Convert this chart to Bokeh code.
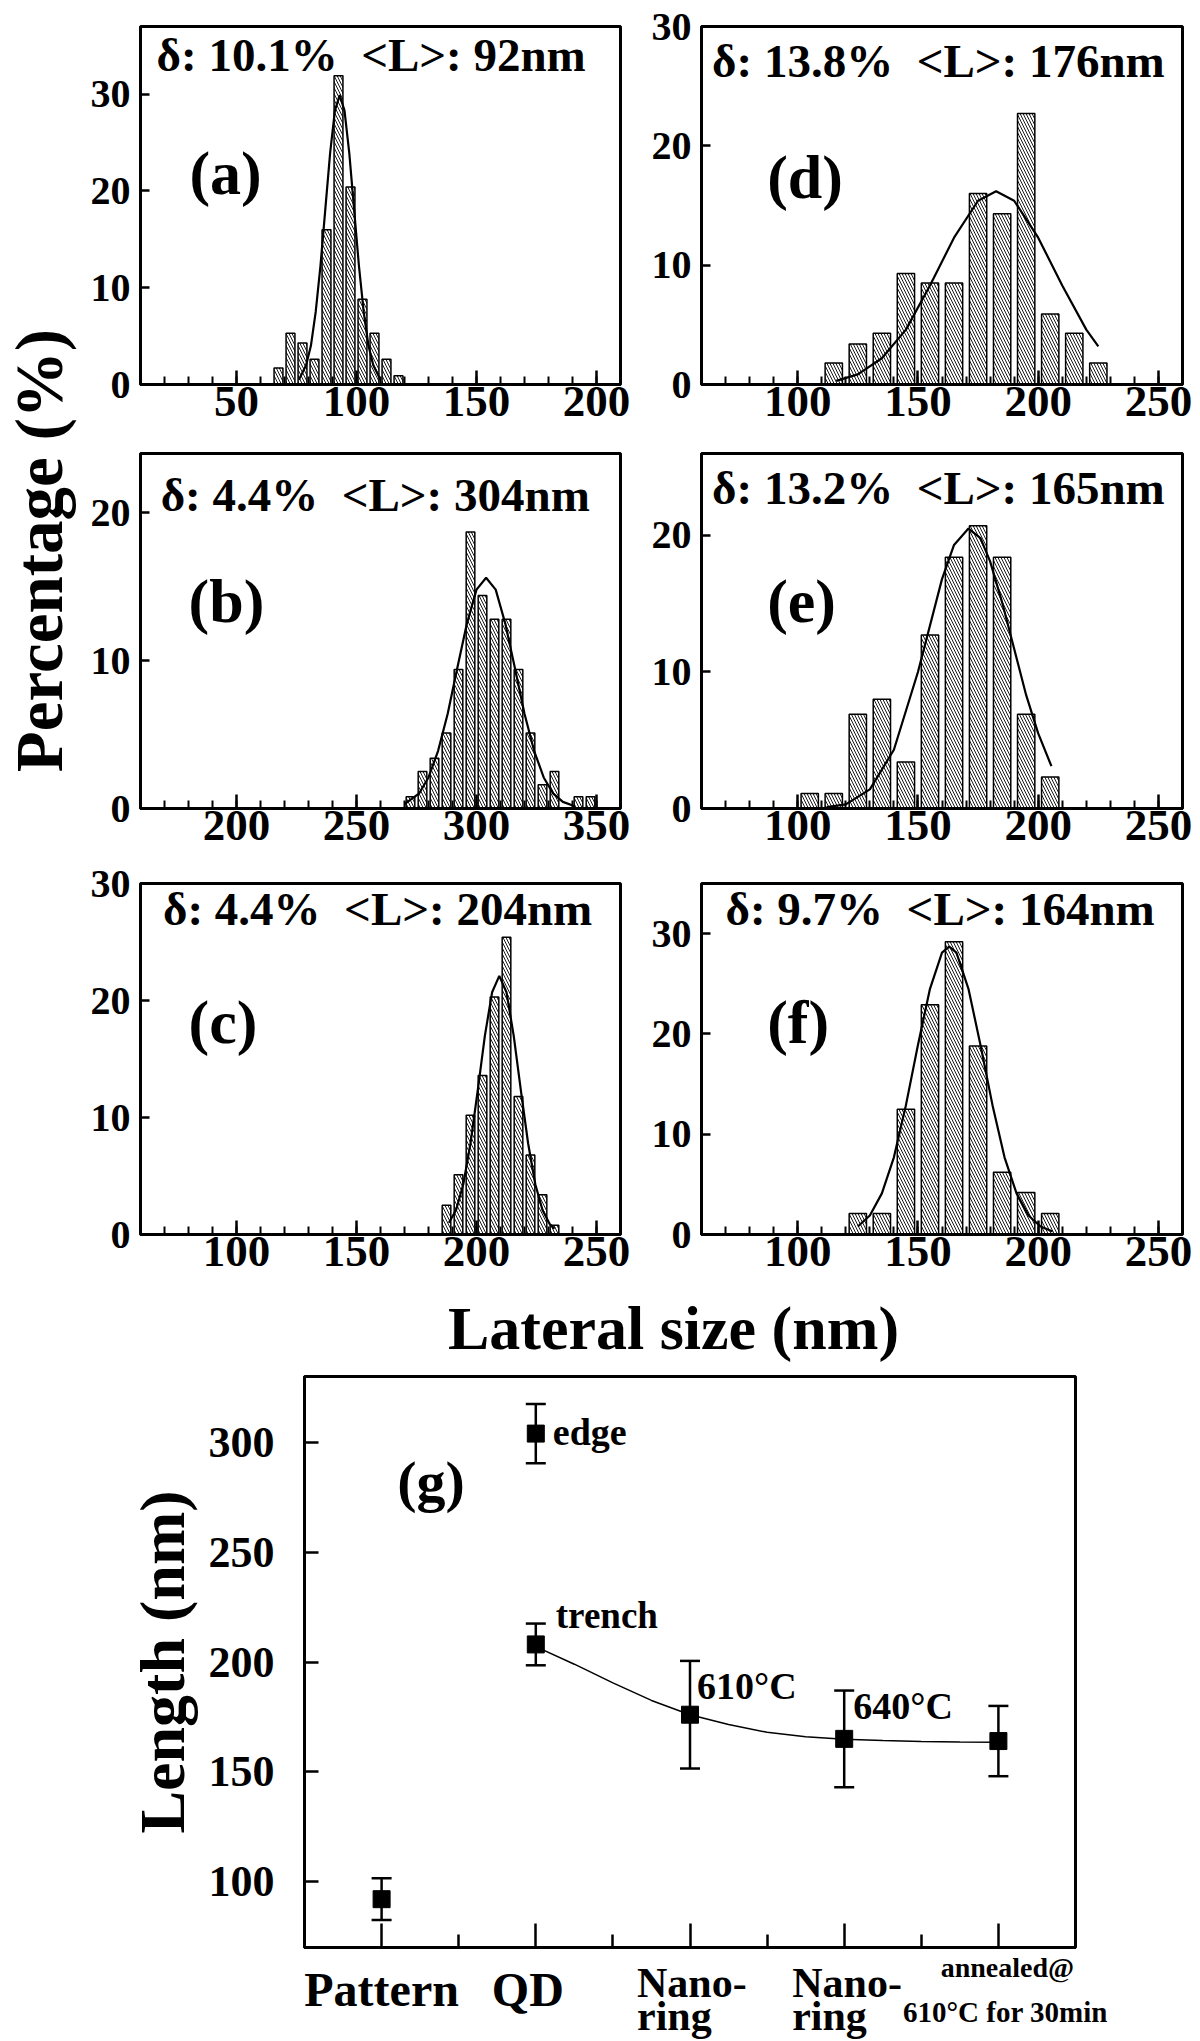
import math
from bokeh.plotting import figure
from bokeh.layouts import row, column
from bokeh.models import (ColumnDataSource, SingleIntervalTicker, FixedTicker,
                          Label, Range1d, Whisker, TeeHead, LinearAxis)
from bokeh.embed import file_html
from bokeh.resources import INLINE

FONT = "Liberation Serif"
SP = " \u00a0"  # double space kept visible in SVG

# ---------------- histogram data (percentage vs lateral size, nm) ----------------
a_size = [67.5, 72.5, 77.5, 82.5, 87.5, 92.5, 97.5, 102.5, 107.5, 112.5, 117.5]
a_pct = [1.7, 5.3, 4.3, 2.6, 16.0, 31.9, 20.4, 8.8, 5.3, 2.6, 0.9]
a_fit_x = [76, 79, 81, 83, 85, 87, 89, 91, 93, 95, 97, 99, 101, 103, 105, 107, 110]
a_fit_y = [0.5, 2.0, 4.0, 7.5, 12.3, 18.1, 23.9, 28.3, 29.9, 28.3, 23.9, 18.1, 12.3, 7.5, 4.0, 2.0, 0.5]

b_size = [272.5, 277.5, 282.5, 287.5, 292.5, 297.5, 302.5, 307.5, 312.5, 317.5, 322.5, 327.5, 332.5, 342.5, 347.5]
b_pct = [0.8, 2.5, 3.4, 5.1, 9.4, 18.7, 14.4, 12.8, 12.8, 9.4, 5.1, 1.6, 2.5, 0.8, 0.8]
b_fit_x = [270, 276, 280, 284, 288, 292, 296, 300, 304, 308, 312, 316, 320, 324, 328, 332, 336, 341]
b_fit_y = [0.3, 1.0, 2.1, 3.9, 6.4, 9.5, 12.5, 14.8, 15.6, 14.8, 12.5, 9.5, 6.4, 3.9, 2.1, 1.0, 0.45, 0.15]

c_size = [187.5, 192.5, 197.5, 202.5, 207.5, 212.5, 217.5, 222.5, 227.5, 232.5]
c_pct = [2.5, 5.1, 10.2, 13.6, 20.3, 25.4, 11.8, 6.8, 3.4, 0.8]
c_fit_x = [188.5, 191.5, 194.5, 197.5, 200.5, 203.5, 206.5, 209.5, 212.5, 215.5, 218.5, 221.5, 224.5, 227.5, 230.5, 232.5]
c_fit_y = [1.0, 2.1, 4.3, 7.8, 12.3, 17.0, 20.7, 22.1, 20.7, 17.0, 12.3, 7.8, 4.3, 2.1, 0.9, 0.5]

d_size = [115, 125, 135, 145, 155, 165, 175, 185, 195, 205, 215, 225]
d_pct = [1.8, 3.4, 4.3, 9.3, 8.5, 8.5, 16.0, 14.3, 22.7, 5.9, 4.3, 1.8]
d_fit_x = [116, 125, 135, 145, 155, 165, 175, 182.5, 190, 200, 210, 220, 225]
d_fit_y = [0.3, 0.85, 2.2, 4.6, 8.3, 12.3, 15.4, 16.2, 15.4, 12.3, 8.3, 4.6, 3.2]

e_size = [105, 115, 125, 135, 145, 155, 165, 175, 185, 195, 205]
e_pct = [1.1, 1.1, 6.9, 8.0, 3.4, 12.7, 18.4, 20.7, 18.4, 6.9, 2.3]
e_fit_x = [112, 120, 130, 140, 150, 160, 165, 171, 176, 180, 185, 190, 195, 200, 205.5]
e_fit_y = [0.1, 0.3, 1.4, 4.3, 10.0, 16.8, 19.3, 20.5, 19.8, 18.1, 15.1, 11.7, 8.3, 5.5, 3.1]

f_size = [125, 135, 145, 155, 165, 175, 185, 195, 205]
f_pct = [2.1, 2.1, 12.5, 22.9, 29.2, 18.8, 6.2, 4.2, 2.1]
f_fit_x = [125, 130, 135, 140, 145, 150, 155, 160, 163, 166, 171, 176, 181, 186, 191, 196, 201, 206]
f_fit_y = [0.8, 1.9, 4.1, 7.7, 12.9, 18.9, 24.5, 28.1, 28.7, 28.1, 24.5, 18.9, 12.9, 7.7, 4.1, 1.9, 0.8, 0.3]

stats = {
    "a": "δ: 10.1%" + SP + "<L>: 92nm",
    "b": "δ: 4.4%" + SP + "<L>: 304nm",
    "c": "δ: 4.4%" + SP + "<L>: 204nm",
    "d": "δ: 13.8%" + SP + "<L>: 176nm",
    "e": "δ: 13.2%" + SP + "<L>: 165nm",
    "f": "δ: 9.7%" + SP + "<L>: 164nm",
}

# ---------------- panel (g) data ----------------
g_cat_pos = [1, 2, 3, 4, 5]
g_categories = ["Pattern", "QD", "Nano-\nring", "Nano-\nring", "annealed@\n610°C for 30min"]
g_x = [1, 2, 2, 3, 4, 5]
g_length = [92, 304, 208, 176, 165, 164]
g_err = [9.5, 13.5, 9.5, 24.5, 22.0, 16.0]
g_fit_x = [2.0, 2.25, 2.5, 2.75, 3.0, 3.25, 3.5, 3.75, 4.0, 4.25, 4.5, 4.75, 5.0]
g_fit_y = [207, 199, 190.5, 182.5, 176, 171.5, 168, 166, 164.8, 164.2, 163.8, 163.6, 163.5]


def base_fig(w, h, xr, yr, mbl=0, mbr=0, mbt=0, mbb=0):
    p = figure(width=w, height=h, x_range=Range1d(*xr), y_range=Range1d(*yr),
               output_backend="svg", toolbar_location=None,
               min_border_left=mbl, min_border_right=mbr,
               min_border_top=mbt, min_border_bottom=mbb)
    p.xgrid.visible = False
    p.ygrid.visible = False
    p.background_fill_color = "white"
    p.border_fill_color = "white"
    p.outline_line_color = "black"
    p.outline_line_width = 3
    p.outline_line_alpha = 1.0
    return p


def blank_fig(w, h, xr, yr):
    """Figure whose frame fills the whole canvas (zero-size, hidden axes)."""
    p = base_fig(w, h, xr, yr)
    p.outline_line_color = None
    for ax in p.axis:
        ax.ticker = FixedTicker(ticks=[])
        ax.axis_line_color = None
        ax.major_tick_in = 0
        ax.major_tick_out = 0
        ax.minor_tick_in = 0
        ax.minor_tick_out = 0
        ax.major_label_text_font_size = "1px"
        ax.major_label_standoff = 0
        ax.axis_label_standoff = 0
    return p


def add_text(p, x, y, text, size, align="center", xoff=0, angle=0):
    # y is the vertical centre of the text
    p.add_layout(Label(x=x, y=y, x_offset=xoff, text=text, text_font=FONT,
                       text_font_style="bold", text_font_size=size, angle=angle,
                       text_align=align, text_baseline="middle", text_color="black"))


def hist_panel(size, pct, bar_w, fit_x, fit_y, xr, yr, stat, tag, stat_xy, tag_xy, borders):
    mbl, fw, mbr, mbt, fh, mbb = borders
    p = base_fig(mbl + fw + mbr, mbt + fh + mbb, xr, yr, mbl, mbr, mbt, mbb)
    p.vbar(x=size, top=pct, bottom=0, width=bar_w, fill_color="white",
           line_color="black", line_width=1.5,
           hatch_pattern="left_diagonal_line", hatch_color="black",
           hatch_weight=0.9, hatch_scale=6)
    p.line(fit_x, fit_y, line_color="black", line_width=2.2)

    xa = p.xaxis[0]
    xa.ticker = SingleIntervalTicker(interval=50, num_minor_ticks=5)
    xa.major_tick_in = 14
    xa.major_tick_out = 0
    xa.minor_tick_in = 8
    xa.minor_tick_out = 0
    xa.axis_line_width = 3
    xa.major_tick_line_width = 2.5
    xa.minor_tick_line_width = 2
    xa.major_label_text_font = FONT
    xa.major_label_text_font_style = "bold"
    xa.major_label_text_font_size = "45px"
    xa.major_label_text_color = "black"
    xa.major_label_standoff = 2

    ya = p.yaxis[0]
    ya.ticker = SingleIntervalTicker(interval=10, num_minor_ticks=0)
    ya.major_tick_in = 9
    ya.major_tick_out = 0
    ya.minor_tick_in = 0
    ya.minor_tick_out = 0
    ya.axis_line_width = 3
    ya.major_tick_line_width = 2.5
    ya.major_label_text_font = FONT
    ya.major_label_text_font_style = "bold"
    ya.major_label_text_font_size = "40px"
    ya.major_label_text_color = "black"
    ya.major_label_standoff = 10

    add_text(p, stat_xy[0], stat_xy[1], stat, "47px", align="left")
    add_text(p, tag_xy[0], tag_xy[1], tag, "62px", align="left")
    return p


STRIP_W = 87
L_COL = (52, 481, 20)
R_COL = (61, 481, 18)
ROW1 = (26, 358, 62)
ROW2 = (7, 355, 52)
ROW3 = (23, 351, 56)

pa = hist_panel(a_size, a_pct, 3.7, a_fit_x, a_fit_y, (10, 210), (0, 37), stats["a"], "(a)",
                (16.7, 34.1), (30.4, 21.9), L_COL + ROW1)
pd = hist_panel(d_size, d_pct, 7.2, d_fit_x, d_fit_y, (60, 260), (0, 30), stats["d"], "(d)",
                (64.4, 27.1), (87.3, 17.4), R_COL + ROW1)
pb = hist_panel(b_size, b_pct, 3.6, b_fit_x, b_fit_y, (160, 360), (0, 24), stats["b"], "(b)",
                (168.4, 21.2), (180.0, 14.0), L_COL + ROW2)
pe = hist_panel(e_size, e_pct, 7.2, e_fit_x, e_fit_y, (60, 260), (0, 26), stats["e"], "(e)",
                (64.4, 23.5), (87.3, 15.2), R_COL + ROW2)
pc = hist_panel(c_size, c_pct, 3.6, c_fit_x, c_fit_y, (60, 260), (0, 30), stats["c"], "(c)",
                (69.4, 27.8), (80.0, 18.2), L_COL + ROW3)
pf = hist_panel(f_size, f_pct, 7.2, f_fit_x, f_fit_y, (60, 260), (0, 35), stats["f"], "(f)",
                (70.0, 32.5), (87.3, 21.2), R_COL + ROW3)

top_h = sum(ROW1) + sum(ROW2) + sum(ROW3)

# left strip with the shared y label (pixel-like data coordinates)
strip = blank_fig(STRIP_W, top_h, (0, STRIP_W), (0, top_h))
add_text(strip, 38, top_h - 550, "Percentage (%)", "67px", align="center", angle=math.pi / 2)

# shared x label
LAT_H = 80
lat = blank_fig(1200, LAT_H, (0, 1200), (0, LAT_H))
add_text(lat, 673, LAT_H - 37, "Lateral size (nm)", "62px", align="center")

# ---------------- panel (g) ----------------
G_MBL, G_FW, G_MBR = 304, 771, 125
G_MBT, G_FH, G_MBB = 6, 571, 3
G_XR = (0.5, 5.5)
pg = base_fig(G_MBL + G_FW + G_MBR, G_MBT + G_FH + G_MBB, G_XR, (70, 330),
              mbl=G_MBL, mbr=G_MBR, mbt=G_MBT, mbb=G_MBB)
src = ColumnDataSource(dict(x=g_x, y=g_length,
                            upper=[v + e for v, e in zip(g_length, g_err)],
                            lower=[v - e for v, e in zip(g_length, g_err)]))
pg.line(g_fit_x, g_fit_y, line_color="black", line_width=1.5)
pg.add_layout(Whisker(source=src, base="x", upper="upper", lower="lower",
                      line_color="black", line_width=2.5,
                      upper_head=TeeHead(size=20, line_width=2.5, line_color="black"),
                      lower_head=TeeHead(size=20, line_width=2.5, line_color="black")))
pg.scatter("x", "y", source=src, marker="square", size=17, fill_color="black", line_color="black")

# x axis of (g): short ticks between categories, long ticks at categories; no labels
gx = pg.xaxis[0]
gx.ticker = FixedTicker(ticks=[], minor_ticks=[1.5, 2.5, 3.5, 4.5])
gx.major_tick_in = 0
gx.major_tick_out = 0
gx.minor_tick_in = 13
gx.minor_tick_out = 0
gx.minor_tick_line_width = 2.5
gx.axis_line_width = 3
gx.major_label_standoff = 0
gx.major_label_text_font_size = "1px"
gx2 = LinearAxis(ticker=FixedTicker(ticks=[], minor_ticks=g_cat_pos),
                 major_tick_in=0, major_tick_out=0, minor_tick_in=24, minor_tick_out=0,
                 minor_tick_line_width=2.5, axis_line_width=3,
                 major_label_standoff=0, major_label_text_font_size="1px")
pg.add_layout(gx2, "below")

gy = pg.yaxis[0]
gy.ticker = FixedTicker(ticks=[100, 150, 200, 250, 300])
gy.major_tick_in = 14
gy.major_tick_out = 0
gy.minor_tick_in = 0
gy.minor_tick_out = 0
gy.axis_line_width = 3
gy.major_tick_line_width = 2.5
gy.major_label_text_font = FONT
gy.major_label_text_font_style = "bold"
gy.major_label_text_font_size = "44px"
gy.major_label_text_color = "black"
gy.major_label_standoff = 30
gy.axis_label = "Length (nm)"
gy.axis_label_text_font = FONT
gy.axis_label_text_font_style = "bold"
gy.axis_label_text_font_size = "64px"
gy.axis_label_text_color = "black"
gy.axis_label_standoff = 8

add_text(pg, 1.32, 282, "(g)", "58px", align="center")
add_text(pg, 2, 304.7, "edge", "38px", align="left", xoff=17)
add_text(pg, 2, 221, "trench", "37px", align="left", xoff=20)
add_text(pg, 3, 189, "610°C", "38px", align="left", xoff=7)
add_text(pg, 4, 180, "640°C", "38px", align="left", xoff=9)

# category labels of (g): same x scale as (g), frame spanning the whole canvas
px_per_unit = G_FW / (G_XR[1] - G_XR[0])
LBL_H = 2041 - top_h - LAT_H - (G_MBT + G_FH + G_MBB)
lab = blank_fig(G_MBL + G_FW + G_MBR, LBL_H,
                (G_XR[0] - G_MBL / px_per_unit, G_XR[1] + G_MBR / px_per_unit),
                (0, LBL_H))

add_text(lab, g_cat_pos[0], 52, g_categories[0], "48px")
add_text(lab, g_cat_pos[1], 52, g_categories[1], "48px", xoff=-8)
for pos, xoff in ((g_cat_pos[2], -53), (g_cat_pos[3], -52)):
    first, second = g_categories[pos - 1].split("\n")
    add_text(lab, pos, 59, first, "42px", align="left", xoff=xoff)
    add_text(lab, pos, 26, second, "42px", align="left", xoff=xoff)
ann1, ann2 = g_categories[4].split("\n")
add_text(lab, g_cat_pos[4], 74, ann1, "28px", xoff=9)
add_text(lab, g_cat_pos[4], 30, ann2, "29px", xoff=7)

# each full-width figure wrapped in its own row so that frames are not cross-aligned
layout = column(
    row(strip, column(row(pa, pd), row(pb, pe), row(pc, pf))),
    row(lat),
    row(pg),
    row(lab),
)

open("out.html", "w").write(file_html(layout, INLINE))
